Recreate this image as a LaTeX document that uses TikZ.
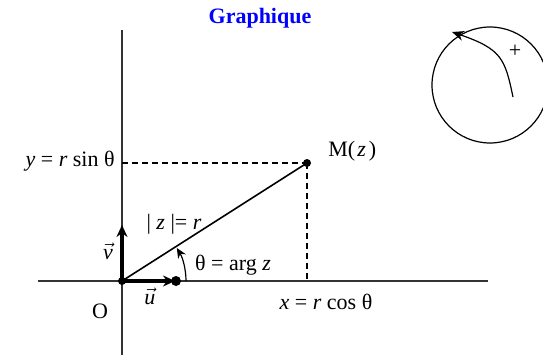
\documentclass[tikz,border=0pt]{standalone}
\usepackage{fontspec}
\setmainfont{Liberation Serif}
\usetikzlibrary{arrows.meta,positioning}

\begin{document}
\begin{tikzpicture}[x=0.5pt,y=0.5pt,every node/.style={font=\fontsize{11}{13}\selectfont}]
  \tikzset{axe/.style={draw=black!80,line width=0.6pt},
    pointille/.style={draw=black,line width=0.6pt,dash pattern=on 3pt off 2pt},
    vecteur/.style={draw=black,line width=1.6pt,-{Stealth[length=6pt,width=5.5pt]}},
    pt/.style={circle,fill=black,inner sep=0pt,minimum size=4pt},
    lbl/.style={inner sep=1pt}}
  \useasboundingbox (0,0) rectangle (543,355);
  \clip (0,0) rectangle (543,355);

  % -- axes --
  \coordinate (xg) at (38,74);  \coordinate (xd) at (488,74);
  \coordinate (yb) at (122,0);  \coordinate (yh) at (122,325);
  \draw[axe] (xg) -- (xd);
  \draw[axe] (yb) -- (yh);

  % -- points --
  \node[pt] (O) at (122,74) {};
  \node[pt] (M) at (307,192) {};
  \node[pt,minimum size=5pt] (U) at (176,74) {};
  \coordinate (uu) at (175,74);
  \coordinate (vv) at (122,130);
  \coordinate (py) at (122,192);
  \coordinate (px) at (307,74);

  % -- projections --
  \draw[pointille] (py) -- (M.center);
  \draw[pointille] (M.center) -- (px);

  % -- vectors and OM --
  \draw[line width=0.8pt] (O.center) -- (M.center);
  \draw[vecteur] (O.center) -- (uu);
  \draw[vecteur] (O.center) -- (vv);
  \draw[-{Stealth[length=5pt,width=4.5pt]},line width=0.6pt] ([xshift=32pt]O.center) arc[start angle=0,end angle=31,radius=32pt];

  % -- labels --
  \node[font=\fontsize{11}{13}\selectfont\bfseries,text=blue] (titre) at (260,337) {Graphique};
  \node[lbl,anchor=west] (lM) at (326,204) {M(\kern1pt\textit{z}\kern1.5pt)};
  \node[lbl,anchor=east] (ly) at (117,194) {\textit{y} = \textit{r} sin θ};
  \node[lbl] (lr) at (174,131) {| \textit{z} |= \textit{r}};
  \node[lbl] (lt) at (233,90) {θ = arg \textit{z}};
  \node[lbl] (lx) at (326,53) {\textit{x} = \textit{r} cos θ};
  \node[lbl] (lO) at (100,44) {O};
  \node[lbl] (lu) at (150,59) {$\vec{\textit{u}}$};
  \node[lbl] (lv) at (108,104) {$\vec{\textit{v}}$};

  % -- sens direct --
  \node[draw,circle,minimum size=58pt,inner sep=0pt,line width=0.6pt] (cercle) at (490,270) {};
  \coordinate (depart) at (513,258);
  \coordinate (fleche) at (452,323);
  \draw[-{Stealth[length=6pt,width=5pt]},line width=0.6pt] (depart) .. controls (505,296) and (502,306) .. (fleche);
  \node[lbl] (plus) at (515,304) {+};
\end{tikzpicture}
\end{document}
